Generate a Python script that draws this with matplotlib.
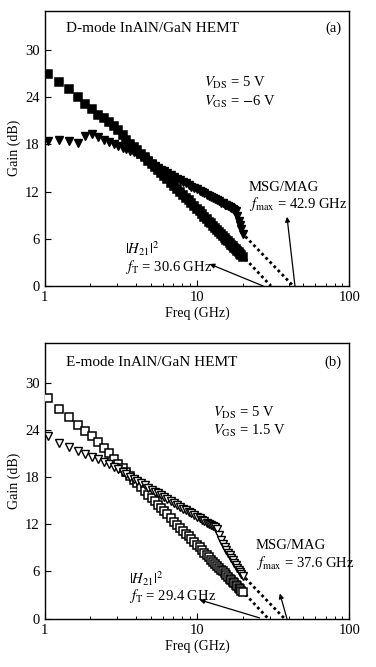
import matplotlib
matplotlib.use('Agg')
from matplotlib import pyplot as plt
from matplotlib.ticker import LogLocator, FixedLocator, NullFormatter

plt.rcParams['font.family'] = ['Liberation Serif', 'DejaVu Serif']
plt.rcParams['mathtext.fontset'] = 'stix'

# frequency sweep (GHz), shared by both panels
freq = [1.05, 1.25, 1.45, 1.65, 1.85, 2.05, 2.25, 2.45, 2.65, 2.85,
        3.05, 3.25, 3.45, 3.65, 3.85, 4.05, 4.3, 4.55, 4.8, 5.05,
        5.3, 5.55, 5.8, 6.05, 6.4, 6.75, 7.1, 7.45, 7.8, 8.15,
        8.5, 8.85, 9.2, 9.6, 10.0, 10.4, 10.8, 11.2, 11.6, 12.0,
        12.4, 12.8, 13.2, 13.6, 14.0, 14.4, 14.8, 15.2, 15.6, 16.0,
        16.4, 16.8, 17.2, 17.6, 18.0, 18.4, 18.8, 19.2, 19.6, 20.0]

# (a) D-mode
h21_a = [27.0, 25.95, 25.0, 24.0, 23.2, 22.5, 21.8, 21.3, 20.8, 20.3,
         19.8, 19.2, 18.6, 18.1, 17.7, 17.3, 16.8, 16.35, 15.9, 15.5,
         15.1, 14.7, 14.4, 14.0, 13.6, 13.15, 12.75, 12.35, 12.0, 11.6,
         11.25, 10.9, 10.55, 10.2, 9.8, 9.5, 9.15, 8.8, 8.5, 8.2,
         7.95, 7.65, 7.35, 7.1, 6.85, 6.6, 6.4, 6.15, 5.9, 5.7,
         5.5, 5.25, 5.05, 4.85, 4.65, 4.45, 4.3, 4.1, 3.9, 3.75]
msg_a = [18.5, 18.6, 18.5, 18.2, 19.1, 19.3, 19.0, 18.6, 18.3, 18.05,
         17.8, 17.55, 17.4, 17.2, 17.0, 16.8, 16.5, 16.15, 15.85, 15.5,
         15.25, 15.0, 14.8, 14.6, 14.35, 14.1, 13.85, 13.65, 13.45, 13.25,
         13.05, 12.85, 12.65, 12.5, 12.3, 12.1, 11.95, 11.8, 11.6, 11.45,
         11.3, 11.15, 11.0, 10.9, 10.75, 10.6, 10.5, 10.35, 10.25, 10.15,
         10.0, 9.9, 9.8, 9.7, 9.6, 8.9, 8.3, 7.7, 7.2, 6.6]

# (b) E-mode
h21_b = [28.1, 26.7, 25.6, 24.6, 23.9, 23.2, 22.5, 21.75, 21.0, 20.35,
         19.7, 19.1, 18.6, 18.1, 17.65, 17.2, 16.7, 16.2, 15.75, 15.3,
         14.9, 14.5, 14.1, 13.75, 13.25, 12.8, 12.35, 11.95, 11.55, 11.15,
         10.8, 10.45, 10.1, 9.75, 9.4, 9.05, 8.7, 8.4, 8.1, 7.8,
         7.5, 7.25, 6.95, 6.7, 6.45, 6.25, 6.0, 5.75, 5.55, 5.35,
         5.1, 4.9, 4.7, 4.5, 4.3, 4.1, 3.95, 3.75, 3.55, 3.4]
msg_b = [23.2, 22.3, 21.8, 21.35, 20.95, 20.6, 20.3, 19.95, 19.6, 19.3,
         19.0, 18.7, 18.4, 18.05, 17.8, 17.5, 17.2, 16.95, 16.65, 16.4,
         16.15, 15.95, 15.7, 15.5, 15.2, 14.95, 14.7, 14.45, 14.2, 14.0,
         13.8, 13.6, 13.4, 13.2, 12.95, 12.75, 12.6, 12.4, 12.2, 12.05,
         11.9, 11.75, 11.6, 11.4, 10.6, 10.05, 9.55, 9.15, 8.75, 8.4,
         8.05, 7.7, 7.4, 7.1, 6.8, 6.5, 6.2, 5.95, 5.7, 5.45]

# -20 dB/dec extrapolation to 0 dB
ft_a, fmax_a = 30.6, 42.9
ft_b, fmax_b = 29.4, 37.6

yticks = [0, 6, 12, 18, 24, 30]

fig = plt.figure(figsize=(3.76, 6.67), dpi=100)
ax1 = fig.add_axes([0.1184, 0.5712, 0.8106, 0.4127])
ax2 = fig.add_axes([0.1184, 0.0724, 0.8106, 0.4129])


def style_axes(ax):
    ax.set_xscale('log')
    ax.set_xlim(1, 100)
    ax.set_ylim(0, 35)
    ax.yaxis.set_major_locator(FixedLocator(yticks))
    ax.xaxis.set_major_locator(FixedLocator([1, 10, 100]))
    ax.set_xticklabels(['1', '10', '100'])
    ax.xaxis.set_minor_locator(LogLocator(base=10, subs=range(2, 10)))
    ax.xaxis.set_minor_formatter(NullFormatter())
    ax.tick_params(which='major', direction='in', length=4, width=0.8, labelsize=10.5)
    ax.tick_params(which='minor', direction='in', length=2.5, width=0.7)
    for s in ax.spines.values():
        s.set_linewidth(1.0)
    ax.set_xlabel('Freq (GHz)', fontsize=10, labelpad=2)
    ax.set_ylabel('Gain (dB)', fontsize=10, labelpad=3)


def draw_panel(ax, h21, msg, ft, fmax, filled):
    fc = 'k' if filled else 'white'
    ax.plot(freq, h21, ls='none', marker='s', ms=5.3, mfc=fc, mec='k', mew=1.1, zorder=3)
    ax.plot(freq, msg, ls='none', marker='v', ms=6.0, mfc=fc, mec='k', mew=1.0, zorder=3)
    ax.plot([freq[-1] * 1.04, ft], [h21[-1] - 0.3, 0], color='k', lw=2.0,
            ls=(0, (1, 1.1)), zorder=2)
    ax.plot([freq[-1] * 1.04, fmax], [msg[-1] - 0.3, 0], color='k', lw=2.0,
            ls=(0, (1, 1.1)), zorder=2)


style_axes(ax1)
style_axes(ax2)
draw_panel(ax1, h21_a, msg_a, ft_a, fmax_a, True)
draw_panel(ax2, h21_b, msg_b, ft_b, fmax_b, False)

arrow = dict(arrowstyle='-|>', color='k', lw=0.9, mutation_scale=7, shrinkA=0, shrinkB=0)

# panel (a) texts
ax1.text(0.07, 0.936, 'D-mode InAlN/GaN HEMT', transform=ax1.transAxes, fontsize=11, va='center')
ax1.text(0.975, 0.936, '(a)', transform=ax1.transAxes, fontsize=10.5, va='center', ha='right')
ax1.text(11.07, 25.8, r'$V_{\mathrm{DS}}$ = 5 V', fontsize=10.5, va='center')
ax1.text(11.07, 23.4, r'$V_{\mathrm{GS}}$ = $-$6 V', fontsize=10.5, va='center')
ax1.text(22.0, 12.55, 'MSG/MAG', fontsize=10.5, va='center')
ax1.text(22.0, 10.4, r'$f_{\mathrm{max}}$ = 42.9 GHz', fontsize=10.5, va='center')
ax1.text(3.35, 4.8, r'$|H_{21}|^2$', fontsize=10.5, va='center')
ax1.text(3.35, 2.4, r'$f_{\mathrm{T}}$ = 30.6 GHz', fontsize=10.5, va='center')
ax1.annotate('', xy=(12.1, 2.8), xytext=(27.2, 0.0), arrowprops=arrow)
ax1.annotate('', xy=(39.0, 8.8), xytext=(44.0, 0.0), arrowprops=arrow)

# panel (b) texts
ax2.text(0.07, 0.93, 'E-mode InAlN/GaN HEMT', transform=ax2.transAxes, fontsize=11, va='center')
ax2.text(0.975, 0.93, '(b)', transform=ax2.transAxes, fontsize=10.5, va='center', ha='right')
ax2.text(12.7, 26.2, r'$V_{\mathrm{DS}}$ = 5 V', fontsize=10.5, va='center')
ax2.text(12.7, 23.8, r'$V_{\mathrm{GS}}$ = 1.5 V', fontsize=10.5, va='center')
ax2.text(24.3, 9.3, 'MSG/MAG', fontsize=10.5, va='center')
ax2.text(24.3, 7.1, r'$f_{\mathrm{max}}$ = 37.6 GHz', fontsize=10.5, va='center')
ax2.text(3.6, 5.1, r'$|H_{21}|^2$', fontsize=10.5, va='center')
ax2.text(3.6, 2.9, r'$f_{\mathrm{T}}$ = 29.4 GHz', fontsize=10.5, va='center')
ax2.annotate('', xy=(10.4, 2.4), xytext=(25.8, 0.1), arrowprops=arrow)
ax2.annotate('', xy=(35.0, 3.2), xytext=(39.0, 0.0), arrowprops=arrow)

fig.savefig('out.png', dpi=100)
